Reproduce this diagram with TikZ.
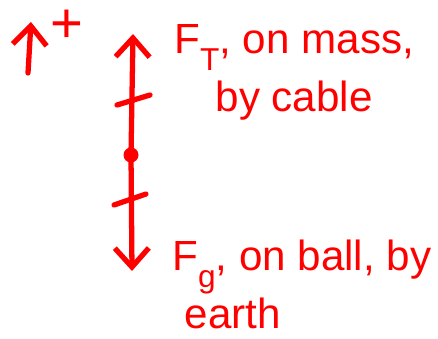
\documentclass[tikz,border=0pt]{standalone}
\usepackage{fontspec}
\setmainfont{Liberation Sans}
\usetikzlibrary{arrows.meta}
\newcommand{\fsub}[2]{#1\raisebox{-0.4em}{\fontsize{18}{18}\selectfont #2}}
\tikzset{
  pen/.style={draw=red,line width=3pt,line cap=round},
  vec/.style={pen,-{Straight Barb[length=0.38cm,width=0.68cm,line width=3pt]}},
  lbl/.style={text=red,font=\fontsize{24}{33}\selectfont,inner sep=0pt}
}
\begin{document}
\begin{tikzpicture}[x=0.02cm,y=-0.02cm]
  \useasboundingbox (0,0) rectangle (438,338);
  % sign convention
  \coordinate (up0) at (28,73);
  \coordinate (up1) at (31,22);
  \draw[vec] (up0) -- (up1);
  \node[lbl,font=\fontsize{32}{34}\selectfont] (plus) at (67,26) {+};
  % the ball and its two forces
  \node[circle,fill=red,minimum size=0.3cm,inner sep=0pt] (ball) at (131,155) {};
  \coordinate (tension) at (133,34);
  \coordinate (gravity) at (132,271);
  \draw[vec] (ball.center) -- (tension);
  \draw[vec] (ball.center) -- (gravity);
  % equal length marks
  \draw[pen] (117,105) -- (150,95);
  \draw[pen] (114,205) -- (146,194);
  % labels
  \node[lbl,anchor=north west,align=center] (ftlbl) at (174,24)
    {\fsub{F}{T}, on mass,\\ by cable};
  \node[lbl,anchor=north west,align=left] (fglbl) at (172,240)
    {\fsub{F}{g}, on ball, by\\ \hspace{0.25cm}earth};
\end{tikzpicture}
\end{document}
